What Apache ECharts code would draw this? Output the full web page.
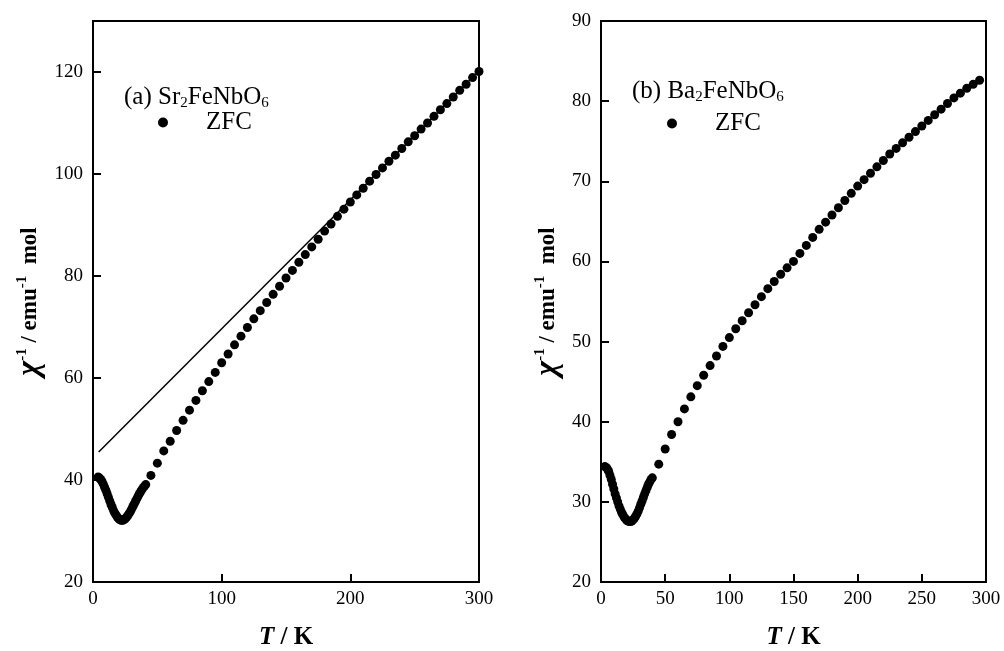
<!DOCTYPE html>
<html>
<head>
<meta charset="utf-8">
<script src="https://cdn.jsdelivr.net/npm/echarts@6/dist/echarts.min.js"></script>
<style>
html, body { margin: 0; padding: 0; background: #fff; }
#chart { width: 1004px; height: 651px; }
</style>
</head>
<body>
<div id="chart"></div>
<script>
// (a) Sr2FeNbO6, ZFC
const tempA = [4, 5, 6, 7, 8, 9, 10, 11, 12, 13, 14, 15, 16, 17, 18, 19, 20, 21, 22, 23, 24, 25, 26, 27, 28, 29, 30, 31, 32, 33, 34, 35, 36, 37, 38, 39, 40, 41,
  45, 50, 55, 60, 65, 70, 75, 80, 85, 90, 95, 100, 105, 110, 115, 120, 125, 130, 135, 140, 145, 150, 155, 160, 165, 170, 175, 180, 185, 190, 195, 200,
  205, 210, 215, 220, 225, 230, 235, 240, 245, 250, 255, 260, 265, 270, 275, 280, 285, 290, 295, 300];
const chiA = [40.6, 40.4, 40.1, 39.7, 39.2, 38.6, 38.0, 37.3, 36.6, 35.9, 35.2, 34.6, 34.0, 33.5, 33.1, 32.7, 32.4, 32.2, 32.1, 32.1, 32.2, 32.4, 32.7, 33.0, 33.4, 33.8, 34.3, 34.8, 35.3, 35.8, 36.3, 36.8, 37.3, 37.7, 38.1, 38.5, 38.8, 39.1,
  40.9, 43.3, 45.7, 47.6, 49.7, 51.7, 53.7, 55.6, 57.5, 59.3, 61.1, 63.0, 64.7, 66.5, 68.2, 69.9, 71.6, 73.2, 74.8, 76.4, 78.0, 79.6, 81.1, 82.7, 84.2, 85.7, 87.2, 88.8, 90.2, 91.7, 93.1, 94.5,
  95.9, 97.2, 98.6, 99.9, 101.2, 102.5, 103.7, 105.0, 106.3, 107.5, 108.8, 110.0, 111.3, 112.6, 113.8, 115.1, 116.4, 117.6, 118.9, 120.1];
// Curie-Weiss line in (a)
const fitTempA = [4.4, 300];
const fitChiA = [45.5, 120.2];

// (b) Ba2FeNbO6, ZFC
const tempB = [3, 4, 5, 6, 7, 8, 9, 10, 11, 12, 13, 14, 15, 16, 17, 18, 19, 20, 21, 22, 23, 24, 25, 26, 27, 28, 29, 30, 31, 32, 33, 34, 35, 36, 37, 38, 39, 40,
  45, 50, 55, 60, 65, 70, 75, 80, 85, 90, 95, 100, 105, 110, 115, 120, 125, 130, 135, 140, 145, 150, 155, 160, 165, 170, 175, 180, 185, 190, 195, 200,
  205, 210, 215, 220, 225, 230, 235, 240, 245, 250, 255, 260, 265, 270, 275, 280, 285, 290, 295];
const chiB = [34.4, 34.3, 34.1, 33.8, 33.3, 32.8, 32.2, 31.6, 31.0, 30.5, 30.0, 29.5, 29.1, 28.7, 28.4, 28.1, 27.9, 27.7, 27.6, 27.55, 27.55, 27.6, 27.75, 27.95, 28.2, 28.5, 28.85, 29.25, 29.7, 30.1, 30.55, 31.0, 31.4, 31.8, 32.2, 32.5, 32.8, 33.0,
  34.7, 36.6, 38.4, 40.0, 41.6, 43.1, 44.5, 45.8, 47.0, 48.2, 49.4, 50.5, 51.6, 52.6, 53.6, 54.6, 55.6, 56.6, 57.5, 58.4, 59.2, 60.0, 61.0, 62.0, 63.0, 64.0, 64.9, 65.8, 66.7, 67.6, 68.5, 69.4,
  70.2, 71.0, 71.8, 72.6, 73.4, 74.1, 74.8, 75.5, 76.2, 76.9, 77.6, 78.3, 79.0, 79.7, 80.4, 81.0, 81.6, 82.1, 82.6];

const font = 'Liberation Serif';
const pairs = (xs, ys) => xs.map((x, i) => [x, ys[i]]);

const myChart = echarts.init(document.getElementById('chart'));

const axisCommon = {
  type: 'value',
  axisLine: { show: true, onZero: false, lineStyle: { color: '#000', width: 2 } },
  axisTick: { show: true, inside: true, length: 8, lineStyle: { color: '#000', width: 2 } },
  axisLabel: { color: '#000', fontFamily: font, fontSize: 19 },
  splitLine: { show: false },
  nameLocation: 'middle',
};

const xName = {
  name: '{i|T}{b| / K}',
  nameGap: 43,
  nameTextStyle: {
    color: '#000', fontFamily: font, fontSize: 25, fontWeight: 'bold',
    rich: {
      i: { fontFamily: font, fontSize: 25, fontStyle: 'italic', fontWeight: 'bold', color: '#000' },
      b: { fontFamily: font, fontSize: 25, fontWeight: 'bold', color: '#000' },
    },
  },
};

const yNameStyle = {
  color: '#000', fontFamily: font, fontSize: 23, fontWeight: 'bold',
  rich: {
    c: { fontFamily: font, fontSize: 32, fontStyle: 'italic', fontWeight: 'bold', color: '#000', lineHeight: 30 },
    s: { fontFamily: font, fontSize: 15, fontWeight: 'bold', color: '#000', verticalAlign: 'top', lineHeight: 15 },
    b: { fontFamily: font, fontSize: 23, fontWeight: 'bold', color: '#000', lineHeight: 30 },
  },
};
const yNameText = '{c|χ}{s|-1}{b| / emu}{s|-1}{b|  mol}';

const titleStyle = {
  color: '#000', fontFamily: font, fontSize: 25, fontWeight: 'normal', lineHeight: 28,
  rich: {
    n: { fontFamily: font, fontSize: 25, color: '#000', lineHeight: 28 },
    s: { fontFamily: font, fontSize: 15, color: '#000', verticalAlign: 'bottom', lineHeight: 14 },
  },
};

const legendCommon = {
  icon: 'circle',
  itemWidth: 10,
  itemHeight: 10,
  data: ['ZFC'],
  selectedMode: false,
  textStyle: { color: '#000', fontFamily: font, fontSize: 25, padding: [0, 0, 0, 33] },
};

const option = {
  backgroundColor: '#fff',
  animation: false,
  title: [
    { text: '{n|(a) Sr}{s|2}{n|FeNbO}{s|6}', left: 119, top: 78, textStyle: titleStyle },
    { text: '{n|(b) Ba}{s|2}{n|FeNbO}{s|6}', left: 627, top: 72, textStyle: titleStyle },
  ],
  legend: [
    Object.assign({ left: 153, top: 105 }, legendCommon),
    Object.assign({ left: 662, top: 106 }, legendCommon),
  ],
  grid: [
    { left: 93, top: 21, width: 386, height: 561, show: true, borderColor: '#000', borderWidth: 2, outerBoundsMode: 'none' },
    { left: 601, top: 21, width: 385, height: 561, show: true, borderColor: '#000', borderWidth: 2, outerBoundsMode: 'none' },
  ],
  xAxis: [
    Object.assign({}, axisCommon, xName, { gridIndex: 0, min: 0, max: 300, interval: 100 }),
    Object.assign({}, axisCommon, xName, { gridIndex: 1, min: 0, max: 300, interval: 50 }),
  ],
  yAxis: [
    Object.assign({}, axisCommon, {
      gridIndex: 0, min: 20, max: 130, interval: 20,
      axisLabel: Object.assign({}, axisCommon.axisLabel, { showMaxLabel: false, margin: 10 }),
      name: yNameText, nameRotate: 90, nameGap: 48, nameTextStyle: yNameStyle,
    }),
    Object.assign({}, axisCommon, {
      gridIndex: 1, min: 20, max: 90, interval: 10,
      axisLabel: Object.assign({}, axisCommon.axisLabel, { margin: 10 }),
      name: yNameText, nameRotate: 90, nameGap: 38, nameTextStyle: yNameStyle,
    }),
  ],
  series: [
    {
      name: 'fit', type: 'line', xAxisIndex: 0, yAxisIndex: 0,
      data: pairs(fitTempA, fitChiA), showSymbol: false, symbol: 'none',
      lineStyle: { color: '#000', width: 1.5 }, silent: true, z: 1,
    },
    {
      name: 'ZFC', type: 'scatter', xAxisIndex: 0, yAxisIndex: 0,
      data: pairs(tempA, chiA), symbol: 'circle', symbolSize: 9,
      itemStyle: { color: '#000', opacity: 1 }, z: 2,
    },
    {
      name: 'ZFC', type: 'scatter', xAxisIndex: 1, yAxisIndex: 1,
      data: pairs(tempB, chiB), symbol: 'circle', symbolSize: 9,
      itemStyle: { color: '#000', opacity: 1 }, z: 2,
    },
  ],
};

myChart.setOption(option);
</script>
</body>
</html>
